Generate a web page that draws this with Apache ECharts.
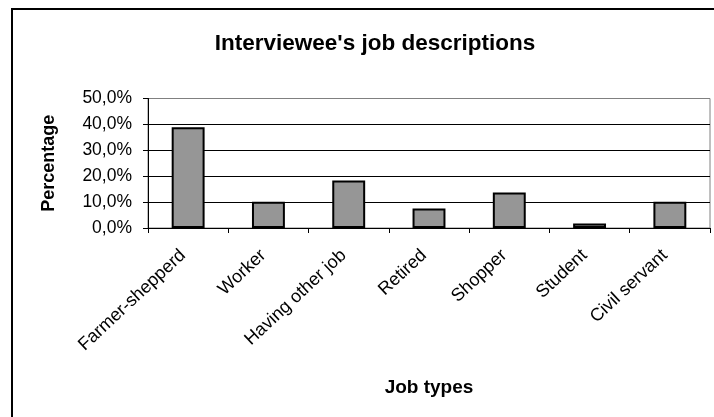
<!DOCTYPE html>
<html>
<head>
<meta charset="utf-8">
<script src="https://cdn.jsdelivr.net/npm/echarts@6/dist/echarts.min.js"></script>
<style>
html,body{margin:0;padding:0;background:#fff;}
#chart{width:714px;height:417px;}
</style>
</head>
<body>
<div id="chart"></div>
<script>
const categories = ['Farmer-shepperd', 'Worker', 'Having other job', 'Retired', 'Shopper', 'Student', 'Civil servant'];
const percentages = [38.9, 10.1, 18.3, 7.5, 13.7, 1.7, 10.1];
const yTicks = [0, 10, 20, 30, 40, 50];

const chart = echarts.init(document.getElementById('chart'));
const FONT = '"Liberation Sans", Arial, sans-serif';
chart.setOption({
  animation: false,
  backgroundColor: '#fff',
  title: {
    text: "Interviewee's job descriptions",
    left: 370, top: 27, textAlign: 'center',
    textStyle: {fontFamily: FONT, fontSize: 22.5, fontWeight: 'bold', color: '#000'}
  },
  graphic: [{
    type: 'rect', silent: true, z: 100,
    shape: {x: 12, y: 9, width: 800, height: 500},
    style: {fill: 'none', stroke: '#000', lineWidth: 2}
  }, {
    type: 'rect', silent: true, z: 0,
    shape: {x: 148, y: 98.5, width: 562, height: 129.5},
    style: {fill: 'none', stroke: '#808080', lineWidth: 1}
  }],
  grid: {left: 148, right: 4, top: 98.5, bottom: 189, containLabel: false},
  xAxis: {
    type: 'category',
    data: categories,
    name: 'Job types',
    nameLocation: 'middle',
    nameGap: 150,
    nameTextStyle: {fontFamily: FONT, fontSize: 19, fontWeight: 'bold', color: '#000'},
    axisLine: {lineStyle: {color: '#000', width: 1}},
    axisTick: {show: true, length: 5, alignWithLabel: false, lineStyle: {color: '#000'}},
    axisLabel: {rotate: 43, margin: 20, padding: [0, 7, 0, 0], interval: 0, fontFamily: FONT, fontSize: 18, color: '#000'}
  },
  yAxis: {
    type: 'value',
    min: yTicks[0], max: yTicks[yTicks.length - 1], interval: 10,
    name: 'Percentage',
    nameLocation: 'middle',
    nameGap: 90,
    nameTextStyle: {fontFamily: FONT, fontSize: 18, fontWeight: 'bold', color: '#000'},
    axisLine: {show: true, lineStyle: {color: '#000', width: 1}},
    axisTick: {show: true, length: 5, lineStyle: {color: '#000'}},
    axisLabel: {margin: 16, fontFamily: FONT, fontSize: 17.5, color: '#000',
      formatter: v => v.toFixed(1).replace('.', ',') + '%'},
    splitLine: {show: true, lineStyle: {color: ['#000', '#000', '#000', '#000', '#000', '#808080'], width: 1}}
  },
  series: [{
    type: 'bar',
    data: percentages,
    barWidth: '41%',
    itemStyle: {color: '#969696', borderColor: '#000', borderWidth: 2}
  }]
});
</script>
</body>
</html>
